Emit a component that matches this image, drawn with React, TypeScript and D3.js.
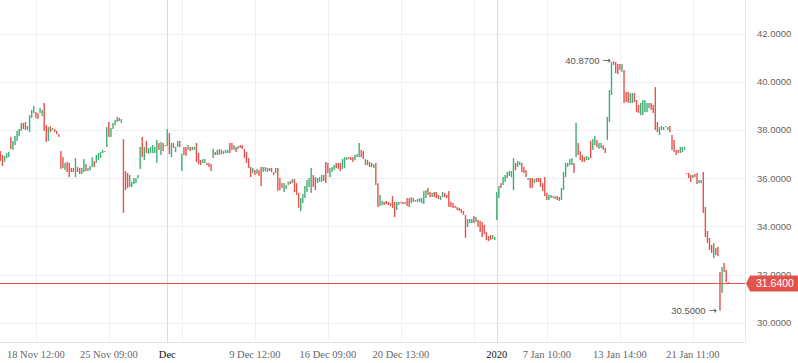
import React from 'react';
import * as d3 from 'd3';

// hourly bars, open / close
const opens = [
  37.13, 36.97, 36.68, 36.84, 36.88, 37.72, 37.18, 37.38, 37.55, 37.76,
  37.97, 38.30, 38.34, 38.01, 37.92, 38.51, 38.71, 38.75, 38.71, 38.71,
  38.59, 39.13, 38.21, 37.55, 38.17, 38.01, 38.05, 37.97, 37.84, 37.13,
  36.88, 36.34, 36.68, 36.64, 36.43, 36.43, 36.05, 36.47, 36.43, 36.18,
  36.26, 36.59, 36.30, 36.34, 36.47, 36.72, 36.64, 36.76, 36.84, 37.05,
  37.13, 37.30, 38.34, 37.72, 38.05, 38.21, 38.34, 38.51, 38.30, 37.63,
  36.30, 36.22, 35.64, 35.64, 35.76, 35.80, 36.01, 36.39, 37.72, 36.76,
  37.55, 37.01, 37.05, 37.05, 37.05, 36.64, 37.47, 36.97, 37.47, 37.34,
  37.34, 37.88, 36.88, 37.47, 37.09, 37.30, 37.55, 36.30, 37.30, 37.30,
  37.18, 37.30, 37.18, 37.18, 37.47, 37.05, 36.76, 36.64, 36.64, 36.64,
  36.64, 36.59, 36.84, 37.09, 36.97, 36.97, 37.18, 37.01, 37.05, 37.05,
  37.47, 37.47, 37.18, 37.30, 37.22, 37.38, 37.38, 37.22, 37.09, 36.84,
  36.47, 36.22, 36.34, 36.18, 36.34, 36.47, 36.26, 36.30, 36.26, 36.43,
  36.43, 36.26, 36.22, 36.43, 36.01, 35.80, 35.43, 35.56, 35.72, 35.89,
  35.80, 35.97, 35.80, 35.39, 34.64, 34.97, 35.18, 35.43, 35.64, 35.39,
  36.14, 36.05, 35.80, 35.85, 35.85, 36.14, 36.68, 36.64, 36.05, 36.26,
  36.34, 36.64, 36.64, 36.64, 36.39, 36.43, 36.76, 36.88, 36.88, 36.88,
  36.76, 36.88, 36.88, 37.18, 37.13, 36.55, 36.76, 36.68, 36.47, 36.43,
  36.64, 35.80, 34.85, 34.89, 35.02, 35.06, 35.02, 34.97, 35.26, 35.02,
  34.68, 34.89, 35.02, 35.02, 34.93, 35.18, 35.18, 34.97, 35.18, 35.02,
  35.02, 35.02, 34.97, 34.93, 35.18, 35.60, 35.43, 35.22, 35.43, 35.43,
  35.31, 35.10, 35.22, 35.39, 35.31, 35.47, 35.02, 34.97, 34.85, 34.81,
  34.77, 34.72, 34.64, 34.48, 33.98, 34.14, 34.14, 34.43, 34.18, 34.27,
  34.23, 34.18, 34.06, 33.77, 33.60, 33.64, 33.48, 33.44, 34.27, 35.18,
  35.80, 35.72, 35.85, 36.01, 36.10, 36.05, 35.51, 36.64, 36.47, 36.55,
  36.64, 36.47, 36.34, 35.93, 36.01, 36.01, 35.80, 36.01, 36.01, 36.01,
  35.80, 36.05, 35.39, 35.10, 35.18, 35.18, 35.26, 35.26, 35.22, 35.10,
  35.51, 36.05, 36.47, 36.55, 36.55, 36.64, 36.88, 37.47, 37.13, 36.97,
  36.88, 36.76, 36.76, 37.55, 37.18, 37.38, 37.59, 37.22, 37.26, 37.38,
  37.26, 37.59, 38.34, 39.46, 40.87, 40.83, 40.75, 40.75, 40.42, 40.50,
  39.59, 39.59, 39.13, 39.13, 39.54, 39.25, 39.05, 38.63, 38.63, 38.75,
  38.75, 38.92, 39.13, 39.05, 39.79, 38.34, 37.80, 38.01, 38.01, 38.13,
  38.01, 38.17, 37.80, 37.59, 37.18, 37.18, 37.05, 37.09, 37.18, 36.22,
  36.22, 36.14, 36.01, 36.18, 36.22, 35.80, 35.80, 36.26, 34.81, 33.81,
  33.52, 33.23, 32.69, 33.10, 33.15, 32.11, 31.24, 32.48, 32.19, 31.69
];

const closes = [
  36.72, 36.51, 36.93, 37.05, 37.09, 37.22, 37.55, 37.76, 37.97, 38.05,
  38.30, 38.05, 38.01, 38.17, 38.63, 38.84, 39.00, 38.51, 38.46, 38.92,
  38.84, 37.97, 37.51, 38.13, 37.92, 38.09, 37.92, 37.84, 37.72, 36.39,
  36.43, 36.64, 36.26, 36.05, 36.26, 36.26, 36.84, 36.26, 36.18, 36.43,
  36.80, 36.30, 36.43, 36.51, 36.88, 36.47, 36.97, 37.05, 37.09, 37.18,
  37.09, 38.13, 37.72, 38.09, 38.30, 38.42, 38.55, 38.38, 38.46, 34.56,
  35.51, 35.60, 36.14, 35.85, 36.01, 36.01, 36.14, 37.30, 36.88, 37.30,
  37.05, 37.26, 37.30, 37.38, 37.30, 37.59, 37.18, 37.51, 37.13, 37.38,
  38.05, 37.01, 37.47, 37.26, 37.30, 37.55, 37.30, 37.01, 36.97, 36.93,
  37.38, 37.13, 37.30, 37.30, 36.68, 36.59, 36.55, 36.80, 36.80, 36.55,
  36.47, 36.30, 37.22, 36.97, 37.18, 37.22, 37.01, 37.13, 37.18, 37.18,
  37.05, 37.18, 37.38, 37.09, 37.34, 37.26, 37.22, 36.84, 36.64, 36.43,
  36.05, 36.43, 36.14, 36.39, 36.10, 35.68, 36.47, 36.47, 36.43, 36.30,
  36.26, 36.14, 36.43, 35.47, 35.51, 35.60, 35.80, 35.72, 35.85, 35.76,
  35.97, 35.43, 35.31, 34.77, 35.18, 35.35, 35.68, 35.93, 36.01, 36.43,
  35.64, 35.51, 36.01, 36.05, 36.14, 35.89, 35.80, 36.22, 36.43, 36.47,
  36.55, 36.43, 36.39, 36.30, 36.80, 36.88, 36.88, 36.80, 36.76, 36.68,
  36.97, 37.01, 37.47, 36.88, 36.80, 36.80, 36.55, 36.47, 36.64, 36.59,
  35.72, 34.81, 35.31, 35.06, 34.89, 34.93, 34.89, 34.85, 34.77, 34.39,
  35.02, 35.02, 34.97, 34.93, 35.02, 34.85, 34.81, 35.22, 35.02, 35.10,
  35.14, 35.18, 35.18, 35.47, 35.51, 35.31, 35.22, 35.39, 35.22, 35.18,
  35.14, 35.26, 35.43, 35.22, 35.18, 34.81, 34.81, 34.77, 34.77, 34.68,
  34.64, 34.56, 34.48, 33.52, 34.31, 34.31, 34.31, 34.14, 34.39, 33.98,
  33.77, 33.56, 33.69, 33.44, 33.39, 33.44, 33.64, 33.56, 35.43, 35.68,
  35.60, 36.05, 36.14, 36.26, 36.30, 36.30, 36.84, 36.34, 36.72, 36.68,
  36.26, 36.22, 36.05, 36.01, 35.60, 35.60, 35.97, 35.85, 35.85, 35.64,
  35.47, 35.26, 35.10, 35.31, 35.31, 35.26, 35.14, 35.10, 35.06, 35.60,
  36.26, 36.64, 36.64, 36.80, 36.84, 36.22, 38.30, 36.97, 36.76, 36.68,
  36.68, 36.93, 36.88, 36.84, 37.63, 37.76, 37.30, 37.47, 37.47, 37.18,
  37.05, 38.55, 39.67, 40.83, 40.71, 40.37, 40.33, 40.50, 40.75, 39.13,
  39.17, 39.13, 39.54, 39.54, 39.17, 38.75, 38.71, 39.13, 39.25, 39.25,
  39.13, 39.13, 38.84, 38.71, 38.01, 37.92, 38.13, 38.17, 38.13, 38.17,
  38.13, 37.92, 37.18, 37.09, 36.97, 37.05, 37.30, 37.30, 37.30, 36.18,
  36.01, 35.85, 36.14, 36.05, 35.76, 35.93, 35.93, 34.56, 33.56, 33.31,
  33.02, 32.90, 33.31, 32.81, 32.77, 30.50, 32.31, 32.11, 31.69, 31.64
];

const priceTicks = [30, 32, 34, 36, 38, 40, 42];
// bar index of each time mark, and its text
const tickBars = [17, 52, 80, 87, 122, 157, 192, 227, 238, 262, 297, 332];
const tickLabels = ['18 Nov 12:00', '25 Nov 09:00', 'Dec', '', '9 Dec 12:00', '16 Dec 09:00',
  '20 Dec 13:00', '', '2020', '7 Jan 10:00', '13 Jan 14:00', '21 Jan 11:00'];
const majorLabels = ['Dec', '2020'];

const width = 798;
const height = 363;
const paneRight = 745;
const paneBottom = 342;
const barSpacing = 73 / 35;
const rightOffset = 8;

const upColor = '#3fae74';
const downColor = '#e5524c';
const gridColor = '#eef0f3';
const sans = "'Liberation Sans', Arial, sans-serif";

export default function App() {
  const n = closes.length;
  const last = n - 1 + rightOffset;
  const x = d3.scaleLinear()
    .domain([last - paneRight / barSpacing, last])
    .range([0, paneRight]);
  const y = d3.scaleLinear().domain([30, 42]).range([322.7, 33.9]);

  const highs = opens.map((o, i) => Math.max(o, closes[i]));
  const lows = opens.map((o, i) => Math.min(o, closes[i]));
  const hiIdx = d3.maxIndex(highs);
  const loIdx = d3.minIndex(lows);
  const lastClose = closes[n - 1];
  const lastUp = lastClose >= opens[n - 1];
  const ly = Math.round(y(lastClose)) + 0.5;
  const barW = 1.4;

  const marker = (i: number, v: number) => (
    <text x={Math.floor(x(i)) - 2} y={y(v)} dy="0.35em">
      {v.toFixed(4)}
      <tspan fontFamily="'DejaVu Sans', sans-serif" fontSize={10} dx={3}>→</tspan>
    </text>
  );

  return (
    <svg width={width} height={height} style={{ position: 'absolute', left: 0, top: 0, background: '#fff' }}>
      {/* grid */}
      <g shapeRendering="crispEdges">
        {priceTicks.map(p => (
          <line key={p} x1={0} x2={paneRight} y1={Math.round(y(p)) + 0.5} y2={Math.round(y(p)) + 0.5} stroke={gridColor} />
        ))}
        {tickBars.map((b, k) => (
          <line key={b} x1={Math.round(x(b)) + 0.5} x2={Math.round(x(b)) + 0.5} y1={0} y2={paneBottom}
            stroke={majorLabels.includes(tickLabels[k]) ? '#d9dbdf' : gridColor} />
        ))}
        <line x1={paneRight + 0.5} x2={paneRight + 0.5} y1={0} y2={paneBottom} stroke="#e3e5e9" />
        <line x1={0} x2={paneRight} y1={paneBottom + 0.5} y2={paneBottom + 0.5} stroke="#e3e5e9" />
      </g>

      {/* candles */}
      <g>
        {opens.map((o, i) => {
          const top = y(highs[i]);
          const bot = y(lows[i]);
          return (
            <rect key={i} x={x(i) - barW / 2} y={top} width={barW} height={Math.max(1, bot - top)}
              fill={closes[i] >= o ? upColor : downColor} />
          );
        })}
      </g>

      {/* last price line */}
      <line x1={0} x2={paneRight} y1={ly} y2={ly} stroke={lastUp ? upColor : downColor} shapeRendering="crispEdges" />

      {/* high / low markers */}
      <g fontFamily={sans} fontSize={9.5} fill="#555" textAnchor="end">
        {marker(hiIdx, highs[hiIdx])}
        {marker(loIdx, lows[loIdx])}
      </g>

      {/* price axis */}
      <g fontFamily={sans} fontSize={9.5} fill="#666">
        {priceTicks.map(p => (
          <text key={p} x={757} y={y(p)} dy="0.35em">{p.toFixed(4)}</text>
        ))}
      </g>
      <path d={`M${paneRight + 1},${ly} L${paneRight + 5},${ly - 8} L${width},${ly - 8} L${width},${ly + 8} L${paneRight + 5},${ly + 8} Z`}
        fill={lastUp ? upColor : downColor} />
      <text x={756} y={ly} dy="0.35em" fontFamily={sans} fontSize={10.5} fill="#fff">
        {lastClose.toFixed(4)}
      </text>

      {/* time axis */}
      <g fontFamily="'Liberation Serif', 'Times New Roman', serif" fontSize={10.5} textAnchor="middle">
        {tickBars.map((b, k) => tickLabels[k] ? (
          <text key={b} x={x(b)} y={357.5} fill={majorLabels.includes(tickLabels[k]) ? '#111' : '#666'}>{tickLabels[k]}</text>
        ) : null)}
      </g>
    </svg>
  );
}
